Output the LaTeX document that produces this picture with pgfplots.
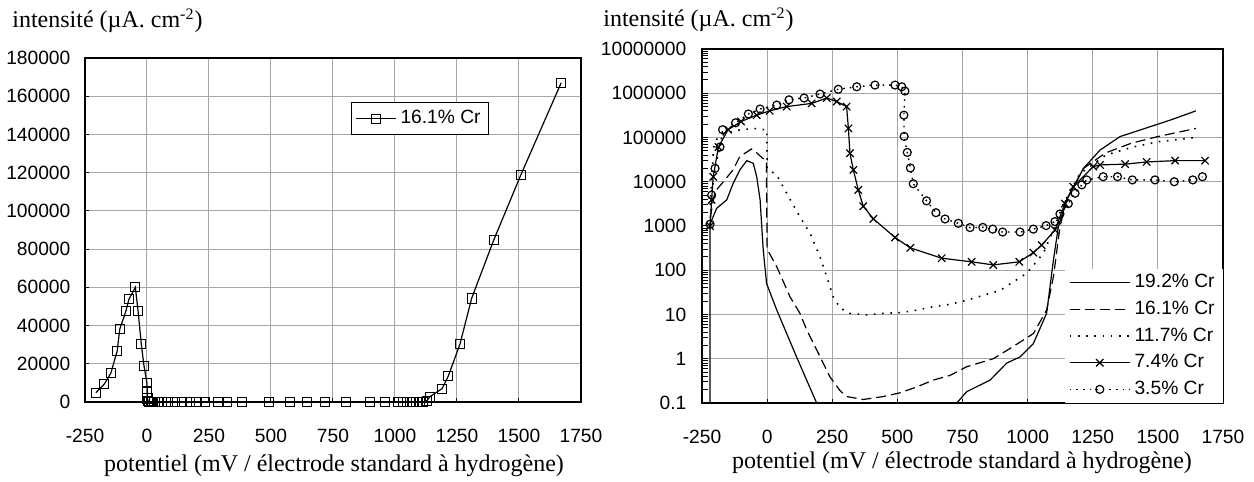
\documentclass[border=0pt]{standalone}
\usepackage{fontspec}
\setmainfont{Liberation Serif}
\setsansfont{Liberation Sans}
\usepackage{pgfplots}
\pgfplotsset{compat=1.18}
\begin{document}
\begin{tikzpicture}
\useasboundingbox (0,0) rectangle (627pt,241pt);
\pgfplotsset{
  common/.style={
    scale only axis,
    xmin=-250,xmax=1750,
    xtick={-250,0,250,500,750,1000,1250,1500,1750},
    xticklabels={-250,0,250,500,750,1000,1250,1500,1750},
    grid=major,
    grid style={line width=0.5pt, color=black!35},
    axis line style={line width=1pt},
    tick align=inside,
    major tick length=2pt,
    tick style={black, line width=0.5pt},
    tick pos=left,
    ticklabel style={font=\sffamily\fontsize{9.6}{11}\selectfont},
    xticklabel style={yshift=-9.8pt},
    scaled ticks=false,
    legend style={font=\sffamily\fontsize{9.6}{11}\selectfont},
  }
}
% ---------------- left chart ----------------
\begin{axis}[common,
  at={(42.5pt,40pt)}, anchor=south west,
  width=248pt, height=172pt,
  ymin=0, ymax=180000,
  ytick={0,20000,40000,60000,80000,100000,120000,140000,160000,180000},
  yticklabels={0,20000,40000,60000,80000,100000,120000,140000,160000,180000},
  yticklabel style={xshift=-3.8pt},
  legend style={at={(0.536,0.872)}, anchor=north west, draw=black, line width=0.5pt, inner sep=2pt},
  legend image code/.code={\draw[mark repeat=2,mark phase=2,#1] plot coordinates {(0pt,0pt) (10pt,0pt) (20pt,0pt)};},
]
\addplot[black, line width=0.6pt, mark=square, mark size=2.3pt, mark options={solid, line width=0.5pt}] coordinates {
(-206,4860) (-172,9400) (-146,15000) (-120,26800) (-110,38000) (-85,47600) (-73,53700) (-47,60000)
(-36,47600) (-23,30300) (-12,18800) (0,9800) (1,5500) (2,1800) (5,400) (10,0) (15,0) (20,0) (30,0)
(45,0) (59,0) (86,0) (113,0) (140,0) (173,0) (200,0) (234,0) (288,0) (321,0) (382,0) (493,0)
(577,0) (644,0) (718,0) (802,0) (899,0) (960,0) (1013,0) (1033,0) (1047,0) (1060,0) (1074,0)
(1087,0) (1101,0) (1114,0) (1128,600) (1141,2800) (1190,7000) (1215,13600) (1262,30300)
(1309,54200) (1398,84700) (1507,118700) (1670,167000)
};
\addlegendentry{16.1\% Cr}
\end{axis}
% ---------------- right chart ----------------
\begin{axis}[common,
  at={(351pt,39.5pt)}, anchor=south west,
  width=260.5pt, height=177pt,
  ymode=log, ymin=0.1, ymax=10000000,
  ytick={0.1,1,10,100,1000,10000,100000,1000000,10000000},
  yticklabels={0.1,1,10,100,1000,10000,100000,1000000,10000000},
  yticklabel style={xshift=-4.3pt},
  legend style={at={(1,0)}, anchor=south east, draw=none, fill=white, inner xsep=2pt, inner ysep=0.5pt, row sep=1.15pt},
  legend cell align=left,
  legend image code/.code={\draw[mark repeat=2,mark phase=2,#1] plot coordinates {(0pt,0pt) (15pt,0pt) (30pt,0pt)};},
]
% 19.2% Cr
\addplot[black, line width=0.6pt] coordinates {
(-219,0.01) (-219,1100) (-194,2500) (-155,3900) (-130,9300) (-104,18800) (-78,30000) (-53,26000)
(-40,13000) (-27,3900) (-15,290) (-2,50) (37,12.6) (113,1.1) (190,0.1) (728,0.1) (766,0.18)
(856,0.33) (920,0.8) (971,1.1) (1022,2.2) (1073,10.7) (1099,170) (1118,960) (1150,3900)
(1214,20000) (1278,52000) (1355,105000) (1450,160000) (1550,250000) (1646,400000)
};
\addlegendentry{19.2\% Cr}
% 16.1% Cr
\addplot[black, line width=0.6pt, dash pattern=on 5pt off 2.5pt] coordinates {
(-219,1500) (-200,6000) (-168,10000) (-130,18800) (-105,37000) (-60,55000) (-40,45000) (-20,35000)
(-3,30000) (0,300) (37,120) (88,25) (126,10.6) (152,4.5) (190,1.6) (241,0.39) (280,0.19) (305,0.14)
(369,0.12) (446,0.14) (510,0.17) (574,0.23) (638,0.33) (702,0.42) (766,0.66) (868,1.0) (945,1.9)
(1022,3.7) (1073,12.6) (1099,71) (1124,950) (1150,3900) (1214,20000) (1300,45000) (1400,75000)
(1500,105000) (1646,160000)
};
\addlegendentry{16.1\% Cr}
% 11.7% Cr
\addplot[black, line width=0.8pt, dash pattern=on 0.8pt off 3.3pt] coordinates {
(-219,3000) (-205,60000) (-190,100000) (-150,130000) (-100,150000) (-50,160000) (-10,150000)
(-1,150000) (0,20000) (37,14000) (75,5500) (126,1600) (165,680) (203,200) (229,71) (254,25)
(280,14) (318,10.6) (382,9.8) (446,10.6) (510,11) (574,12.5) (638,15) (702,17) (766,21) (894,35)
(996,85) (1060,240) (1099,810) (1137,3200) (1200,15000) (1300,40000) (1400,60000) (1500,80000)
(1646,100000)
};
\addlegendentry{11.7\% Cr}
% 7.4% Cr
\addplot[black, line width=0.6pt, mark=x, mark size=2.6pt, mark options={solid}] coordinates {
(-219,1000) (-213,3900) (-207,13000) (-187,61000) (-150,150000) (-100,230000) (-40,320000)
(10,400000) (75,500000) (171,590000) (229,780000) (267,650000) (305,500000) (312,160000)
(318,44000) (331,18500) (350,6500) (369,2800) (408,1450) (491,550) (550,320) (670,187) (785,155)
(868,132) (968,155) (1022,250) (1054,370) (1105,810) (1143,3200) (1175,7700) (1252,22000)
(1278,24000) (1374,25000) (1457,28000) (1566,30000) (1681,30000)
};
\addlegendentry{7.4\% Cr}
% 3.5% Cr
\addplot[black, line width=0.7pt, dash pattern=on 0.8pt off 2.5pt, mark=o, mark size=2pt, mark options={solid, line width=0.6pt}] coordinates {
(-219,1100) (-213,5000) (-200,20000) (-181,61000) (-171,150000) (-121,215000) (-72,340000)
(-27,440000) (37,540000) (84,710000) (142,780000) (203,960000) (273,1230000) (344,1400000)
(414,1530000) (491,1530000) (517,1400000) (529,1120000) (525,320000) (526,106000) (538,46000)
(550,20500) (561,9000) (612,3700) (648,2000) (683,1440) (734,1150) (779,920) (828,930) (866,850)
(904,730) (971,730) (1022,850) (1071,1020) (1105,1260) (1124,1870) (1156,3200) (1182,5500)
(1208,8500) (1227,11000) (1290,13000) (1345,13000) (1402,11000) (1489,11000) (1563,10000)
(1634,11000) (1671,13000)
};
\addlegendentry{3.5\% Cr}
\end{axis}
% ---------------- texts ----------------
\node[anchor=base west, inner sep=0pt, font=\fontsize{12}{14}\selectfont] at (6pt,227pt) {intensité (µA. cm\textsuperscript{-2})};
\node[anchor=base west, inner sep=0pt, font=\fontsize{12}{14}\selectfont] at (301.5pt,227.5pt) {intensité (µA. cm\textsuperscript{-2})};
\node[anchor=base, inner sep=0pt, font=\fontsize{12}{14}\selectfont] at (167pt,5pt) {potentiel (mV / électrode standard à hydrogène)};
\node[anchor=base, inner sep=0pt, font=\fontsize{12}{14}\selectfont] at (481pt,6.5pt) {potentiel (mV / électrode standard à hydrogène)};
\end{tikzpicture}
\end{document}
